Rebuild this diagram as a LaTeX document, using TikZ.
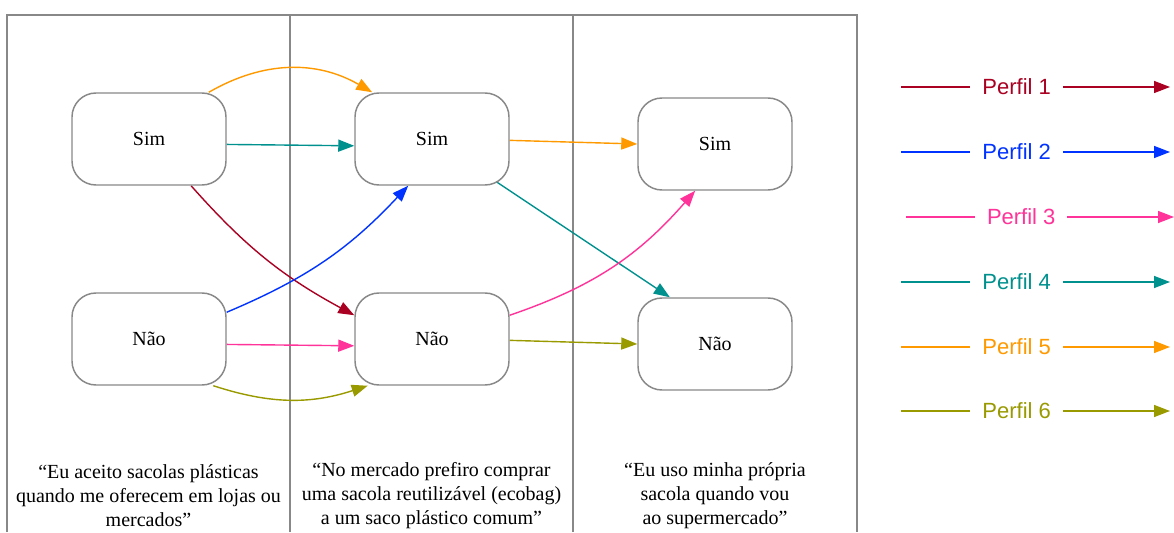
\documentclass[tikz,border=0pt]{standalone}
\usepackage{fontspec}
\setmainfont{Liberation Serif}
\newfontfamily\legendfont{Liberation Sans}
\usetikzlibrary{arrows.meta,backgrounds}

\definecolor{perfil1}{RGB}{170,0,34}
\definecolor{perfil2}{RGB}{0,51,255}
\definecolor{perfil3}{RGB}{255,51,153}
\definecolor{perfil4}{RGB}{0,145,143}
\definecolor{perfil5}{RGB}{255,153,0}
\definecolor{perfil6}{RGB}{153,153,0}
\definecolor{framegray}{RGB}{136,136,136}

\tikzset{
  answer/.style={draw=framegray, line width=1.1pt, rounded corners=18pt, fill=white,
    minimum width=115.5pt, minimum height=69pt, font=\fontsize{15}{18}\selectfont},
  flow/.style={line width=1.05pt, -{Triangle[length=12pt,width=9pt]}},
  question/.style={align=center, font=\fontsize{15}{18}\selectfont},
  legend label/.style={fill=white, inner xsep=9pt, font=\legendfont\fontsize{16.5}{18}\selectfont}
}

\begin{document}
\begin{tikzpicture}[x=0.75pt,y=0.75pt]
  \useasboundingbox (0,0) rectangle (1174,532);

  % columns
  \begin{pgfonlayer}{background}
    \draw[framegray, line width=1.2pt] (7,0) |- (857,517) -- (857,0);
    \draw[framegray, line width=1.5pt] (290,0) -- (290,517);
    \draw[framegray, line width=1.5pt] (573,0) -- (573,517);
  \end{pgfonlayer}

  % answers
  \node[answer] (sim1) at (149,393) {Sim};
  \node[answer] (nao1) at (149,193) {Não};
  \node[answer] (sim2) at (432,393) {Sim};
  \node[answer] (nao2) at (432,193) {Não};
  \node[answer] (sim3) at (715,388) {Sim};
  \node[answer] (nao3) at (715,188) {Não};

  % questions
  \node[question] (q1) at (148.5,36) {“Eu aceito sacolas plásticas\\quando me oferecem em lojas ou\\mercados”};
  \node[question] (q2) at (431.5,36) {“No mercado prefiro comprar\\uma sacola reutilizável (ecobag)\\a um saco plástico comum”};
  \node[question] (q3) at (715,36) {“Eu uso minha própria\\sacola quando vou\\ao supermercado”};

  % profiles
  \begin{pgfonlayer}{background}
    \draw[flow, perfil5] (sim1.38) to[bend left=30] (sim2.142);
    \draw[flow, perfil4] (sim1.-4) -- (sim2.185);
    \draw[flow, perfil1] (sim1.-48) to[bend right=10] (nao2.163);
    \draw[flow, perfil2] (nao1.19) to[bend right=12] (sim2.243);
    \draw[flow, perfil3] (nao1.-4) -- (nao2.185);
    \draw[flow, perfil6] (nao1.-36) to[bend right=18] (nao2.216);

    \draw[flow, perfil5] (sim2.-1) -- (sim3.west);
    \draw[flow, perfil4] (sim2.center) -- (nao3.134);
    \draw[flow, perfil3] (nao2.17) to[bend right=15] (sim3.247);
    \draw[flow, perfil6] (nao2.-1) -- (nao3.west);
  \end{pgfonlayer}

  % legend
  \foreach \i/\y/\xs/\xe in {1/445/901/1170, 2/380/901/1170, 3/315/906/1174,
                             4/250/901/1170, 5/185/901/1170, 6/121/901/1170} {
    \coordinate (la\i) at (\xs,\y);
    \coordinate (lb\i) at (\xe,\y);
    \draw[flow, color=perfil\i] (la\i) -- node[pos=0.43, legend label, text=perfil\i] (lt\i) {Perfil \i} (lb\i);
  }
\end{tikzpicture}
\end{document}
